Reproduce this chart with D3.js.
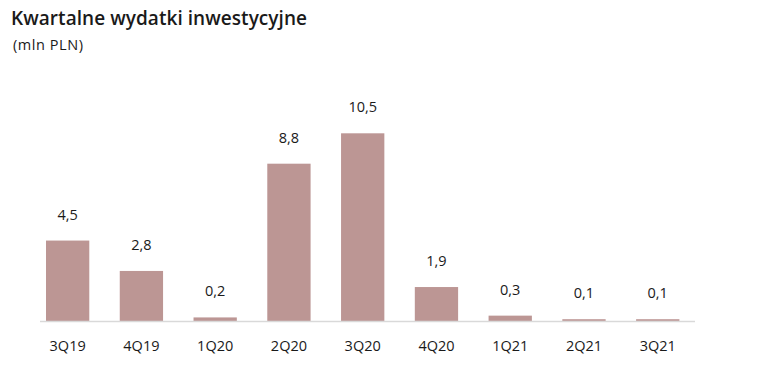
<!DOCTYPE html>
<html>
<head>
<meta charset="utf-8">
<script src="https://cdn.jsdelivr.net/npm/d3@7"></script>
<style>
  html, body { margin: 0; padding: 0; background: #ffffff; }
  svg { display: block; }
  text { font-family: "Open Sans", "Noto Sans", sans-serif; }
</style>
</head>
<body>
<script>
const categories = ["3Q19", "4Q19", "1Q20", "2Q20", "3Q20", "4Q20", "1Q21", "2Q21", "3Q21"];
const values = [4.5, 2.8, 0.2, 8.8, 10.5, 1.9, 0.3, 0.1, 0.1];
const valueLabels = ["4,5", "2,8", "0,2", "8,8", "10,5", "1,9", "0,3", "0,1", "0,1"];
const title = "Kwartalne wydatki inwestycyjne";
const subtitle = "(mln PLN)";

const W = 759, H = 392;
const baseY = 321;
const svg = d3.select("body").append("svg").attr("width", W).attr("height", H);

const x = d3.scaleBand().domain(categories).range([30.8, 694.6]).paddingInner(0.413).paddingOuter(0.206);
const y = d3.scaleLinear().domain([0, 10.5]).range([baseY, 133.3]);

svg.append("text").attr("x", 11).attr("y", 25)
  .attr("font-size", 19).attr("font-weight", 600).attr("fill", "#1a1a1a")
  .attr("textLength", 296).attr("lengthAdjust", "spacing").text(title);
svg.append("text").attr("x", 13).attr("y", 50)
  .attr("font-size", 14.5).attr("fill", "#1a1a1a")
  .attr("textLength", 70).attr("lengthAdjust", "spacing").text(subtitle);

svg.append("g").selectAll("rect").data(values).join("rect")
  .attr("x", (d, i) => x(categories[i]))
  .attr("y", d => y(d))
  .attr("width", x.bandwidth())
  .attr("height", d => baseY - y(d))
  .attr("fill", "#bc9694");

svg.append("line").attr("x1", 40).attr("x2", 695).attr("y1", baseY + 0.5).attr("y2", baseY + 0.5)
  .attr("stroke", "#d9d9d9").attr("stroke-width", 1.5);

svg.append("g").selectAll("text").data(values).join("text")
  .attr("x", (d, i) => x(categories[i]) + x.bandwidth() / 2)
  .attr("y", d => y(d) - 21)
  .attr("text-anchor", "middle")
  .attr("font-size", 14.5).attr("fill", "#1a1a1a")
  .text((d, i) => valueLabels[i]);

const axis = d3.axisBottom(x).tickSize(0).tickPadding(0);
const g = svg.append("g").attr("transform", `translate(0,${baseY})`).call(axis);
g.select(".domain").remove();
g.selectAll("text").attr("y", 30).attr("dy", 0).attr("font-size", 14.5).attr("fill", "#1a1a1a")
  .style("font-family", "\"Open Sans\", sans-serif");
</script>
</body>
</html>
